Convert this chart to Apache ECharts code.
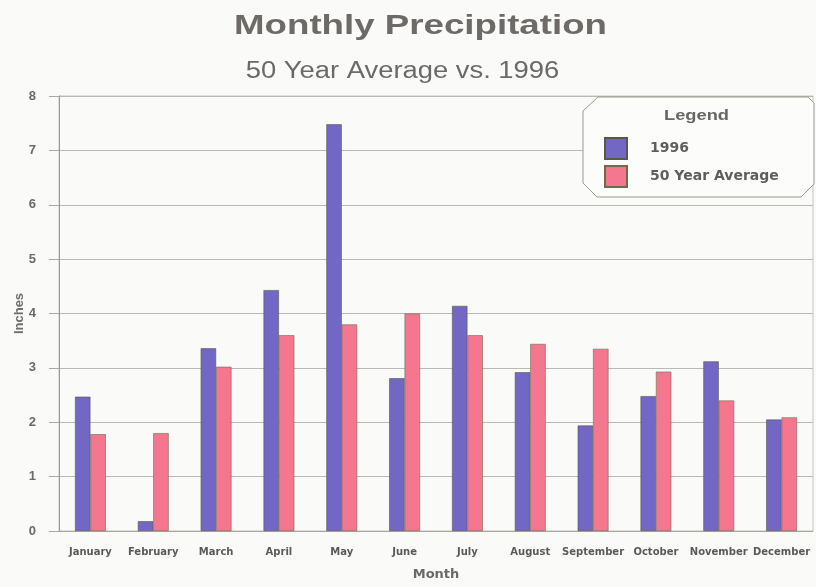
<!DOCTYPE html>
<html>
<head>
<meta charset="utf-8">
<script src="https://cdn.jsdelivr.net/npm/echarts@6/dist/echarts.min.js"></script>
<style>
  html, body { margin: 0; padding: 0; background: #fafaf8; }
  #chart { width: 816px; height: 587px; }
</style>
</head>
<body>
<div id="chart"></div>
<script>
// Monthly precipitation in inches
const months = ['January', 'February', 'March', 'April', 'May', 'June',
                'July', 'August', 'September', 'October', 'November', 'December'];
const rain1996 = [2.47, 0.18, 3.36, 4.43, 7.48, 2.81, 4.14, 2.92, 1.94, 2.48, 3.12, 2.05];
const rainAvg50 = [1.78, 1.80, 3.02, 3.60, 3.80, 4.00, 3.60, 3.44, 3.35, 2.93, 2.40, 2.09];
const yTicks = [0, 1, 2, 3, 4, 5, 6, 7, 8];

const sans = '"Liberation Sans", Arial, sans-serif';
const wide = '"DejaVu Sans", Verdana, sans-serif';

const chart = echarts.init(document.getElementById('chart'), null, { renderer: 'canvas' });

chart.setOption({
  backgroundColor: '#fafaf8',
  animation: false,
  grid: {
    left: 59, right: 3, top: 96, bottom: 56, containLabel: false,
    outerBoundsMode: 'none',
    show: true, borderColor: '#c4c4be', borderWidth: 1, backgroundColor: 'transparent'
  },
  legend: {
    orient: 'vertical',
    left: 604, top: 137, padding: 0,
    itemWidth: 22, itemHeight: 21, itemGap: 5,
    icon: 'rect',
    z: 10,
    textStyle: { fontFamily: wide, fontSize: 14, fontWeight: 'bold', color: '#5e5e5e', padding: [5, 0, 0, 18] },
    data: ['1996', '50 Year Average']
  },
  graphic: [
    {
      // heading lines, stretched horizontally like the printed chart
      type: 'text', z: 6, x: 420.5, y: 12, scaleX: 1.31,
      style: {
        text: 'Monthly Precipitation', font: 'bold 28px ' + sans,
        fill: '#6e6a68', textAlign: 'center', textVerticalAlign: 'top'
      }
    },
    {
      type: 'text', z: 6, x: 402.5, y: 60, scaleX: 1.19,
      style: {
        text: '50 Year Average vs. 1996', font: '23px ' + sans,
        fill: '#6a6a6a', textAlign: 'center', textVerticalAlign: 'top'
      }
    },
    {
      // legend frame with clipped corners
      type: 'polygon', z: 5,
      shape: {
        points: [[598, 97], [808, 97], [814, 103], [814, 184], [801, 197],
                 [597, 197], [583, 183], [583, 111]]
      },
      style: { fill: '#fcfcfb', stroke: '#9a9a90', lineWidth: 1 }
    },
    {
      type: 'text', z: 6, x: 696.5, y: 108, scaleX: 1.22,
      style: {
        text: 'Legend', font: 'bold 15px ' + sans, fill: '#666666',
        textAlign: 'center', textVerticalAlign: 'top'
      }
    }
  ],
  xAxis: {
    type: 'category',
    data: months,
    name: 'Month',
    nameLocation: 'middle',
    nameGap: 37,
    nameTextStyle: { fontFamily: wide, fontSize: 13, fontWeight: 'bold', color: '#6a6a6a' },
    axisLine: { lineStyle: { color: '#a6a69a', width: 1 } },
    axisTick: { length: 6, lineStyle: { color: '#8c8c80' } },
    axisLabel: { interval: 0, margin: 16, fontFamily: wide, fontSize: 10, fontWeight: 'bold', color: '#5a5a5a' }
  },
  yAxis: {
    type: 'value',
    min: yTicks[0], max: yTicks[yTicks.length - 1], interval: 1,
    name: 'Inches',
    nameLocation: 'middle',
    nameGap: 33,
    nameMoveOverlap: false,
    nameRotate: 90,
    nameTextStyle: { fontFamily: sans, fontSize: 13, fontWeight: 'bold', color: '#6e6e6e' },
    axisLine: { show: true, lineStyle: { color: '#9a9a8e', width: 1 } },
    axisTick: { show: true, length: 10, lineStyle: { color: '#a8a8a8' } },
    axisLabel: { margin: 23, fontFamily: sans, fontSize: 13, fontWeight: 'bold', color: '#6a6a6a' },
    splitLine: { show: true, lineStyle: { color: '#b9b9b4', width: 1 } }
  },
  series: [
    {
      name: '1996',
      type: 'bar',
      data: rain1996,
      barGap: '0%',
      barCategoryGap: '51%',
      itemStyle: { color: '#7367c5', borderColor: '#55584a', borderWidth: 0.6 }
    },
    {
      name: '50 Year Average',
      type: 'bar',
      data: rainAvg50,
      itemStyle: { color: '#f5778f', borderColor: '#6e6a4a', borderWidth: 0.6 }
    }
  ]
});
</script>
</body>
</html>
